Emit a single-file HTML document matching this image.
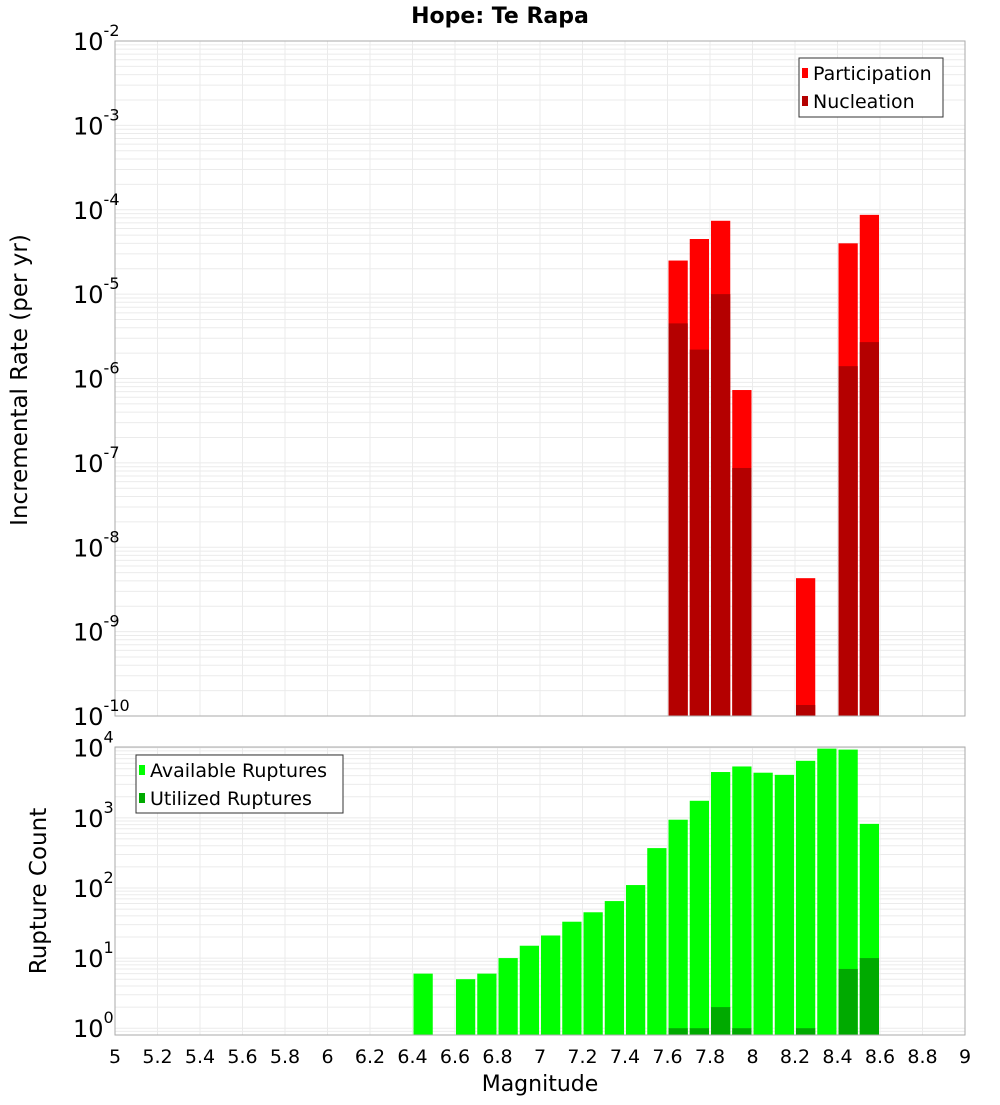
<!DOCTYPE html>
<html><head><meta charset="utf-8"><style>
body{margin:0;background:#fff;}
svg text{font-family:"DejaVu Sans","Liberation Sans",sans-serif;}
</style></head><body>
<svg id="c" width="1000" height="1100" xmlns="http://www.w3.org/2000/svg"></svg>
<script>
const mags = [6.45,6.65,6.75,6.85,6.95,7.05,7.15,7.25,7.35,7.45,7.55,7.65,7.75,7.85,7.95,8.05,8.15,8.25,8.35,8.45,8.55];
const available = [6,5,6,10,15,21,33,45,65,110,370,940,1750,4500,5400,4400,4100,6500,9700,9400,820];
const utilMags = [7.65,7.75,7.85,7.95,8.25,8.45,8.55];
const utilized = [1,1,2,1,1,7,10];
const rateMags = [7.65,7.75,7.85,7.95,8.25,8.45,8.55];
const participation = [2.5e-5,4.5e-5,7.4e-5,7.3e-7,4.3e-9,4.0e-5,8.7e-5];
const nucleation = [4.5e-6,2.2e-6,1.0e-5,8.7e-8,1.35e-10,1.4e-6,2.7e-6];
const xTicks = [5,5.2,5.4,5.6,5.8,6,6.2,6.4,6.6,6.8,7,7.2,7.4,7.6,7.8,8,8.2,8.4,8.6,8.8,9];
const topExps = [-2,-3,-4,-5,-6,-7,-8,-9,-10];
const botExps = [0,1,2,3,4];

const svg = document.getElementById('c');
const NS = 'http://www.w3.org/2000/svg';
function mk(tag, attrs, parent){const e=document.createElementNS(NS,tag);for(const k in attrs)e.setAttribute(k,attrs[k]);(parent||svg).appendChild(e);return e;}
const L=115,R=965;
const X = m => L + (m-5)/4*(R-L);
const T0=41,T1=716, topMax=-2, topMin=-10;
const YT = v => T0 + (topMax-Math.log10(v))/(topMax-topMin)*(T1-T0);
const B0=747,B1=1035, botMax=4.01, botMin=Math.log10(0.8);
const YB = v => B0 + (botMax-Math.log10(v))/(botMax-botMin)*(B1-B0);

function grid(y0,y1,Yf,lo,hi,name){
  const g=mk('g',{});
  
  
  for(let e=Math.floor(lo);e<=hi;e++){for(let k=1;k<10;k++){const v=k*Math.pow(10,e);const y=Yf(v);if(y<y0-0.5||y>y1+0.5)continue;
    mk('line',{x1:L,x2:R,y1:y,y2:y,stroke:'#ebebeb','stroke-width':1},g);}}
  xTicks.forEach(t=>{const x=X(t);mk('line',{x1:x,x2:x,y1:y0,y2:y1,stroke:'#ebebeb','stroke-width':1},g);});
}
function frame(y0,y1,name){const r=mk('rect',{x:L,y:y0,width:R-L,height:y1-y0,fill:'none',stroke:'#aaaaaa','stroke-width':1});}
function bar(m,v,Yf,base,color,name){const w=(R-L)/40;const x=X(m-0.05);const y=Yf(v);
  const r=mk('rect',{x:x+1,y:y,width:w-2,height:base-y,fill:color});}
function ylabel(exp,y,name){const t=mk('text',{x:73,y:y+9,'font-size':24,fill:'#000'});
  t.textContent='10';const s=mk('tspan',{dy:-14,'font-size':16},t);s.textContent=String(exp);}

// top panel
mk('rect',{x:L,y:T0,width:R-L,height:T1-T0,fill:'#fff'});
grid(T0,T1,YT,-10,-2,'top-grid');
participation.forEach((v,i)=>bar(rateMags[i],v,YT,T1,'#ff0000','participation-bar'));
nucleation.forEach((v,i)=>bar(rateMags[i],v,YT,T1,'#b40000','nucleation-bar'));
frame(T0,T1,'top-plot-frame');
topExps.forEach(e=>ylabel(e,YT(Math.pow(10,e)),'top-y-tick-label'));

// bottom panel
grid(B0,B1,YB,-1,4,'bottom-grid');
available.forEach((v,i)=>bar(mags[i],v,YB,B1,'#00ff00','available-bar'));
utilized.forEach((v,i)=>bar(utilMags[i],v,YB,B1,'#00aa00','utilized-bar'));
frame(B0,B1,'bottom-plot-frame');
botExps.forEach(e=>ylabel(e,YB(Math.pow(10,e)),'bottom-y-tick-label'));

xTicks.forEach(t=>{const tx=mk('text',{x:X(t),y:1063,'font-size':19,'text-anchor':'middle',fill:'#000'});
  tx.textContent=String(t);});

function txt(s,attrs,name){const t=mk('text',attrs);t.textContent=s;return t;}
txt('Hope: Te Rapa',{x:500,y:23,'font-size':22,'font-weight':'bold','text-anchor':'middle'},'chart-title');
txt('Magnitude',{x:540,y:1091,'font-size':22,'text-anchor':'middle'},'x-axis-title');
txt('Incremental Rate (per yr)',{x:0,y:0,'font-size':23,'text-anchor':'middle',transform:'translate(27,380) rotate(-90)'},'top-y-axis-title');
txt('Rupture Count',{x:0,y:0,'font-size':23,'text-anchor':'middle',transform:'translate(46,891) rotate(-90)'},'bottom-y-axis-title');

function legend(x,y,w,h,items,name){const g=mk('g',{});
  mk('rect',{x:x,y:y,width:w,height:h,fill:'#fff',stroke:'#333','stroke-width':1},g);
  items.forEach((it,i)=>{const cy=y+15+i*28;mk('rect',{x:x+3,y:cy-5,width:6,height:10,fill:it[1]},g);
    const t=mk('text',{x:x+14,y:cy+7,'font-size':19},g);t.textContent=it[0];});}
legend(799,58,144,59,[['Participation','#ff0000'],['Nucleation','#b40000']],'top-legend');
legend(136,755,207,58,[['Available Ruptures','#00ff00'],['Utilized Ruptures','#00aa00']],'bottom-legend');
</script>
</body></html>
